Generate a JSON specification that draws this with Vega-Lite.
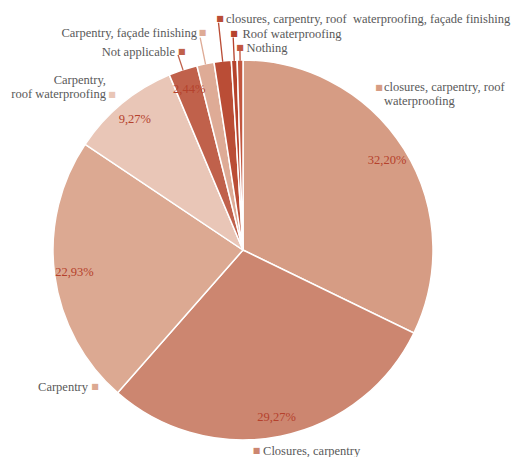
{
  "$schema": "https://vega.github.io/schema/vega-lite/v6.json",
  "width": 486,
  "height": 414,
  "autosize": {"type": "none"},
  "padding": {"left": 0, "top": 43, "right": 27, "bottom": 0},
  "background": "white",
  "config": {"view": {"stroke": null}, "text": {"font": "Liberation Serif, DejaVu Serif, serif"}},
  "data": {
    "values": [
      {"order": 1, "category": "closures, carpentry, roof waterproofing", "display": "closures, carpentry, roof\nwaterproofing", "value": 32.20},
      {"order": 2, "category": "Closures, carpentry", "display": "Closures, carpentry", "value": 29.27},
      {"order": 3, "category": "Carpentry", "display": "Carpentry", "value": 22.93},
      {"order": 4, "category": "Carpentry, roof waterproofing", "display": "Carpentry,\nroof waterproofing", "value": 9.27},
      {"order": 5, "category": "Not applicable", "display": "Not applicable", "value": 2.44},
      {"order": 6, "category": "Carpentry, façade finishing", "display": "Carpentry, façade finishing", "value": 1.46},
      {"order": 7, "category": "closures, carpentry, roof waterproofing, façade finishing", "display": "closures, carpentry, roof\u00a0 waterproofing, façade finishing", "value": 1.46},
      {"order": 8, "category": "Roof waterproofing", "display": "Roof waterproofing", "value": 0.49},
      {"order": 9, "category": "Nothing", "display": "Nothing", "value": 0.49}
    ]
  },
  "transform": [
    {"stack": "value", "groupby": [], "sort": [{"field": "order"}], "as": ["v0", "v1"]},
    {"calculate": "(datum.v0 + datum.v1) / 2", "as": "mid"},
    {"calculate": "datum.mid + 0.003", "as": "mid2"},
    {"calculate": "replace(format(datum.value, '.2f'), '.', ',') + '%'", "as": "pct"}
  ],
  "layer": [
    {
      "mark": {"type": "arc", "outerRadius": 190, "stroke": "white", "strokeWidth": 1.5},
      "encoding": {
        "theta": {"field": "v0", "type": "quantitative", "stack": null, "scale": {"domain": [0, 100.01], "nice": false}},
        "theta2": {"field": "v1"},
        "color": {"field": "category", "type": "nominal", "legend": null,
          "scale": {
            "domain": ["closures, carpentry, roof waterproofing", "Closures, carpentry", "Carpentry", "Carpentry, roof waterproofing", "Not applicable", "Carpentry, façade finishing", "closures, carpentry, roof waterproofing, façade finishing", "Roof waterproofing", "Nothing"],
            "range": ["#D69C84", "#CC8670", "#DCA992", "#E9C6B7", "#C0614B", "#DEAB96", "#BA4D36", "#B6432D", "#C2563F"]
          }}
      }
    },
    {
      "transform": [{"filter": "datum.value > 2"}],
      "mark": {"type": "text", "radius": 170, "font": "Liberation Serif, DejaVu Serif, serif", "fontSize": 12.5, "color": "#B5412C", "align": "center", "baseline": "middle"},
      "encoding": {
        "theta": {"field": "mid", "type": "quantitative", "stack": null, "scale": {"domain": [0, 100.01], "nice": false}},
        "text": {"field": "pct"}
      }
    },
    {"transform": [{"filter": "datum.order == 5"}], "mark": {"type": "arc", "filled": false, "innerRadius": 190, "outerRadius": 205, "strokeWidth": 1.3},
     "encoding": {"theta": {"field": "mid", "type": "quantitative", "stack": null, "scale": {"domain": [0, 100.01], "nice": false}}, "theta2": {"field": "mid2"}, "color": {"field": "category", "type": "nominal", "legend": null}}},
    {"transform": [{"filter": "datum.order == 6"}], "mark": {"type": "arc", "filled": false, "innerRadius": 190, "outerRadius": 216, "strokeWidth": 1.3},
     "encoding": {"theta": {"field": "mid", "type": "quantitative", "stack": null, "scale": {"domain": [0, 100.01], "nice": false}}, "theta2": {"field": "mid2"}, "color": {"field": "category", "type": "nominal", "legend": null}}},
    {"transform": [{"filter": "datum.order == 7"}], "mark": {"type": "arc", "filled": false, "innerRadius": 190, "outerRadius": 228, "strokeWidth": 1.3},
     "encoding": {"theta": {"field": "mid", "type": "quantitative", "stack": null, "scale": {"domain": [0, 100.01], "nice": false}}, "theta2": {"field": "mid2"}, "color": {"field": "category", "type": "nominal", "legend": null}}},
    {"transform": [{"filter": "datum.order == 8"}], "mark": {"type": "arc", "filled": false, "innerRadius": 190, "outerRadius": 212, "strokeWidth": 1.3},
     "encoding": {"theta": {"field": "mid", "type": "quantitative", "stack": null, "scale": {"domain": [0, 100.01], "nice": false}}, "theta2": {"field": "mid2"}, "color": {"field": "category", "type": "nominal", "legend": null}}},
    {"transform": [{"filter": "datum.order == 9"}], "mark": {"type": "arc", "filled": false, "innerRadius": 190, "outerRadius": 199, "strokeWidth": 1.3},
     "encoding": {"theta": {"field": "mid", "type": "quantitative", "stack": null, "scale": {"domain": [0, 100.01], "nice": false}}, "theta2": {"field": "mid2"}, "color": {"field": "category", "type": "nominal", "legend": null}}},

    {"transform": [{"filter": "datum.order == 1"}], "mark": {"type": "text", "text": "■", "radius": 205, "dx": -37.8, "dy": -53.2, "font": "DejaVu Sans", "fontSize": 8, "align": "center", "baseline": "middle"},
     "encoding": {"theta": {"field": "mid", "type": "quantitative", "stack": null, "scale": {"domain": [0, 100.01], "nice": false}}, "color": {"field": "category", "type": "nominal", "legend": null}}},
    {"transform": [{"filter": "datum.order == 2"}], "mark": {"type": "text", "text": "■", "radius": 205, "dx": -27, "dy": -0.4, "font": "DejaVu Sans", "fontSize": 8, "align": "center", "baseline": "middle"},
     "encoding": {"theta": {"field": "mid", "type": "quantitative", "stack": null, "scale": {"domain": [0, 100.01], "nice": false}}, "color": {"field": "category", "type": "nominal", "legend": null}}},
    {"transform": [{"filter": "datum.order == 3"}], "mark": {"type": "text", "text": "■", "radius": 205, "dx": 55.3, "dy": 110.4, "font": "DejaVu Sans", "fontSize": 8, "align": "center", "baseline": "middle"},
     "encoding": {"theta": {"field": "mid", "type": "quantitative", "stack": null, "scale": {"domain": [0, 100.01], "nice": false}}, "color": {"field": "category", "type": "nominal", "legend": null}}},
    {"transform": [{"filter": "datum.order == 4"}], "mark": {"type": "text", "text": "■", "radius": 205, "dx": -0.6, "dy": 2.7, "font": "DejaVu Sans", "fontSize": 8, "align": "center", "baseline": "middle"},
     "encoding": {"theta": {"field": "mid", "type": "quantitative", "stack": null, "scale": {"domain": [0, 100.01], "nice": false}}, "color": {"field": "category", "type": "nominal", "legend": null}}},
    {"transform": [{"filter": "datum.order == 5"}], "mark": {"type": "text", "text": "■", "radius": 205, "dx": 3.5, "dy": -3.8, "font": "DejaVu Sans", "fontSize": 8, "align": "center", "baseline": "middle"},
     "encoding": {"theta": {"field": "mid", "type": "quantitative", "stack": null, "scale": {"domain": [0, 100.01], "nice": false}}, "color": {"field": "category", "type": "nominal", "legend": null}}},
    {"transform": [{"filter": "datum.order == 6"}], "mark": {"type": "text", "text": "■", "radius": 205, "dx": 0.1, "dy": -15.6, "font": "DejaVu Sans", "fontSize": 8, "align": "center", "baseline": "middle"},
     "encoding": {"theta": {"field": "mid", "type": "quantitative", "stack": null, "scale": {"domain": [0, 100.01], "nice": false}}, "color": {"field": "category", "type": "nominal", "legend": null}}},
    {"transform": [{"filter": "datum.order == 7"}], "mark": {"type": "text", "text": "■", "radius": 205, "dx": -1, "dy": -26.9, "font": "DejaVu Sans", "fontSize": 8, "align": "center", "baseline": "middle"},
     "encoding": {"theta": {"field": "mid", "type": "quantitative", "stack": null, "scale": {"domain": [0, 100.01], "nice": false}}, "color": {"field": "category", "type": "nominal", "legend": null}}},
    {"transform": [{"filter": "datum.order == 8"}], "mark": {"type": "text", "text": "■", "radius": 205, "dx": 0.5, "dy": -11.2, "font": "DejaVu Sans", "fontSize": 8, "align": "center", "baseline": "middle"},
     "encoding": {"theta": {"field": "mid", "type": "quantitative", "stack": null, "scale": {"domain": [0, 100.01], "nice": false}}, "color": {"field": "category", "type": "nominal", "legend": null}}},
    {"transform": [{"filter": "datum.order == 9"}], "mark": {"type": "text", "text": "■", "radius": 205, "dx": 0.2, "dy": 2.5, "font": "DejaVu Sans", "fontSize": 8, "align": "center", "baseline": "middle"},
     "encoding": {"theta": {"field": "mid", "type": "quantitative", "stack": null, "scale": {"domain": [0, 100.01], "nice": false}}, "color": {"field": "category", "type": "nominal", "legend": null}}},

    {"transform": [{"filter": "datum.order == 1"}], "mark": {"type": "text", "radius": 205, "dx": -32.8, "dy": -60.2, "align": "left", "baseline": "top", "font": "Liberation Serif, DejaVu Serif, serif", "fontSize": 12.5, "color": "#595959", "lineBreak": "\n", "lineHeight": 14},
     "encoding": {"theta": {"field": "mid", "type": "quantitative", "stack": null, "scale": {"domain": [0, 100.01], "nice": false}}, "text": {"field": "display"}}},
    {"transform": [{"filter": "datum.order == 2"}], "mark": {"type": "text", "radius": 205, "dx": -20.5, "dy": -0.4, "align": "left", "baseline": "middle", "font": "Liberation Serif, DejaVu Serif, serif", "fontSize": 12.5, "color": "#595959"},
     "encoding": {"theta": {"field": "mid", "type": "quantitative", "stack": null, "scale": {"domain": [0, 100.01], "nice": false}}, "text": {"field": "display"}}},
    {"transform": [{"filter": "datum.order == 3"}], "mark": {"type": "text", "radius": 205, "dx": 48.3, "dy": 110.4, "align": "right", "baseline": "middle", "font": "Liberation Serif, DejaVu Serif, serif", "fontSize": 12.5, "color": "#595959"},
     "encoding": {"theta": {"field": "mid", "type": "quantitative", "stack": null, "scale": {"domain": [0, 100.01], "nice": false}}, "text": {"field": "display"}}},
    {"transform": [{"filter": "datum.order == 4"}], "mark": {"type": "text", "radius": 205, "dx": -6.6, "dy": -17.8, "align": "right", "baseline": "top", "font": "Liberation Serif, DejaVu Serif, serif", "fontSize": 12.5, "color": "#595959", "lineBreak": "\n", "lineHeight": 14},
     "encoding": {"theta": {"field": "mid", "type": "quantitative", "stack": null, "scale": {"domain": [0, 100.01], "nice": false}}, "text": {"field": "display"}}},
    {"transform": [{"filter": "datum.order == 5"}], "mark": {"type": "text", "radius": 205, "dx": -3.2, "dy": -3.5, "align": "right", "baseline": "middle", "font": "Liberation Serif, DejaVu Serif, serif", "fontSize": 12.5, "color": "#595959"},
     "encoding": {"theta": {"field": "mid", "type": "quantitative", "stack": null, "scale": {"domain": [0, 100.01], "nice": false}}, "text": {"field": "display"}}},
    {"transform": [{"filter": "datum.order == 6"}], "mark": {"type": "text", "radius": 205, "dx": -5.4, "dy": -15.6, "align": "right", "baseline": "middle", "font": "Liberation Serif, DejaVu Serif, serif", "fontSize": 12.5, "color": "#595959"},
     "encoding": {"theta": {"field": "mid", "type": "quantitative", "stack": null, "scale": {"domain": [0, 100.01], "nice": false}}, "text": {"field": "display"}}},
    {"transform": [{"filter": "datum.order == 7"}], "mark": {"type": "text", "radius": 205, "dx": 5, "dy": -26.9, "align": "left", "baseline": "middle", "font": "Liberation Serif, DejaVu Serif, serif", "fontSize": 12.5, "color": "#595959"},
     "encoding": {"theta": {"field": "mid", "type": "quantitative", "stack": null, "scale": {"domain": [0, 100.01], "nice": false}}, "text": {"field": "display"}}},
    {"transform": [{"filter": "datum.order == 8"}], "mark": {"type": "text", "radius": 205, "dx": 9, "dy": -11.2, "align": "left", "baseline": "middle", "font": "Liberation Serif, DejaVu Serif, serif", "fontSize": 12.5, "color": "#595959"},
     "encoding": {"theta": {"field": "mid", "type": "quantitative", "stack": null, "scale": {"domain": [0, 100.01], "nice": false}}, "text": {"field": "display"}}},
    {"transform": [{"filter": "datum.order == 9"}], "mark": {"type": "text", "radius": 205, "dx": 6.7, "dy": 2.5, "align": "left", "baseline": "middle", "font": "Liberation Serif, DejaVu Serif, serif", "fontSize": 12.5, "color": "#595959"},
     "encoding": {"theta": {"field": "mid", "type": "quantitative", "stack": null, "scale": {"domain": [0, 100.01], "nice": false}}, "text": {"field": "display"}}}
  ]
}
